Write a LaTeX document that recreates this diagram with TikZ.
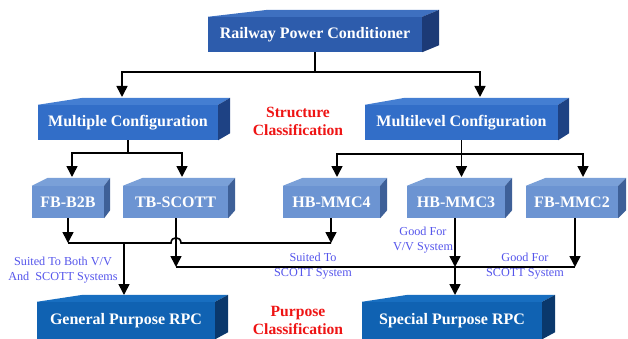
\documentclass[tikz,border=0pt]{standalone}
\usepackage{fontspec}
\setmainfont{Liberation Serif}
\usetikzlibrary{arrows.meta,calc}
\definecolor{rpcF}{RGB}{45,92,172}
\definecolor{rpcT}{RGB}{62,112,192}
\definecolor{rpcS}{RGB}{28,58,118}
\definecolor{cfgF}{RGB}{50,110,200}
\definecolor{cfgT}{RGB}{68,126,210}
\definecolor{cfgS}{RGB}{30,66,132}
\definecolor{lvlF}{RGB}{108,148,210}
\definecolor{lvlT}{RGB}{122,160,216}
\definecolor{lvlS}{RGB}{62,96,152}
\definecolor{purF}{RGB}{16,98,178}
\definecolor{purT}{RGB}{24,110,192}
\definecolor{purS}{RGB}{10,56,108}
\definecolor{noteblue}{RGB}{85,85,235}
\definecolor{clsred}{RGB}{238,20,20}
\newcommand\rpcdepth[6]{%
  \fill[#5] (#1.north west) -- ($(#1.north west)+(#4,-#3)$) -- ($(#1.north east)+(#2,-#3)$) -- (#1.north east) -- cycle;
  \fill[#6] (#1.north east) -- ($(#1.north east)+(#2,-#3)$) -- ($(#1.south east)+(#2,-#3)$) -- (#1.south east) -- cycle;}
\tikzset{
  face/.style={draw=none, inner sep=0pt, text=white, font=\bfseries\fontsize{16}{18}\selectfont},
  topbox/.style={face, fill=rpcF, minimum height=35pt},
  cfgbox/.style={face, fill=cfgF, minimum height=35pt},
  lvlbox/.style={face, fill=lvlF, minimum height=32pt},
  purbox/.style={face, fill=purF, minimum height=37pt},
  arr/.style={-{Triangle[width=11pt,length=11pt]}, line width=1.6pt},
  ln/.style={line width=1.6pt},
  note/.style={text=noteblue, font=\fontsize{12.2}{15}\selectfont, align=center, inner sep=0pt},
  cls/.style={text=clsred, font=\bfseries\fontsize{15.6}{18}\selectfont, align=center, inner sep=0pt}
}
\begin{document}
\begin{tikzpicture}[x=1pt,y=-1pt]
\useasboundingbox (0,0) rectangle (628,339);
% boxes
\node[topbox, minimum width=214pt] (rpc) at (315,34.5) {Railway Power Conditioner};
\rpcdepth{rpc}{17}{7}{60}{rpcT}{rpcS}
\node[cfgbox, minimum width=180pt] (mc) at (128,122.5) {Multiple Configuration};
\rpcdepth{mc}{12}{7}{45}{cfgT}{cfgS}
\node[cfgbox, minimum width=193pt] (ml) at (461.5,122.5) {Multilevel Configuration};
\rpcdepth{ml}{11}{7}{40}{cfgT}{cfgS}
\node[lvlbox, minimum width=72pt] (b2b) at (68,202) {FB-B2B};
\rpcdepth{b2b}{6}{8}{16}{lvlT}{lvlS}
\node[lvlbox, minimum width=105pt] (tb) at (175.5,202) {TB-SCOTT};
\rpcdepth{tb}{7}{8}{20}{lvlT}{lvlS}
\node[lvlbox, minimum width=97pt] (m4) at (331.5,202) {HB-MMC4};
\rpcdepth{m4}{7}{8}{20}{lvlT}{lvlS}
\node[lvlbox, minimum width=98pt] (m3) at (456,202) {HB-MMC3};
\rpcdepth{m3}{7}{8}{20}{lvlT}{lvlS}
\node[lvlbox, minimum width=92pt] (m2) at (572,202) {FB-MMC2};
\rpcdepth{m2}{8}{8}{20}{lvlT}{lvlS}
\node[purbox, minimum width=178pt] (gp) at (126,320.5) {General Purpose RPC};
\rpcdepth{gp}{13}{7}{46}{purT}{purS}
\node[purbox, minimum width=180pt] (sp) at (452,320.5) {Special Purpose RPC};
\rpcdepth{sp}{13}{7}{46}{purT}{purS}
% classification labels
\node[cls] (sc) at (298,121) {Structure\\Classification};
\node[cls] (pc) at (298,320) {Purpose\\Classification};
% level 1 connectors
\coordinate (j1) at (315,72);
\coordinate (mcT) at (122,97);
\coordinate (mlT) at (480,97);
\draw[ln] (rpc.south) -- (j1);
\draw[arr] (j1) -| (mcT);
\draw[arr] (j1) -| (mlT);
% level 2 connectors
\coordinate (j2) at (128,153);
\coordinate (b2bT) at (72,177);
\coordinate (tbT) at (182,177);
\draw[ln] (mc.south) -- (j2);
\draw[arr] (j2) -| (b2bT);
\draw[arr] (j2) -| (tbT);
\coordinate (j3) at (461.5,154);
\coordinate (m4T) at (337,177);
\coordinate (m3T) at (461.5,177);
\coordinate (m2T) at (583,177);
\draw[ln] (ml.south) -- (j3);
\draw[arr] (j3) -| (m4T);
\draw[arr] (j3) -- (m3T);
\draw[arr] (j3) -| (m2T);
% lower connectors
\coordinate (h1) at (68,243);
\coordinate (h2) at (331,243);
\coordinate (g1) at (124,243);
\coordinate (gT) at (124,295);
\coordinate (s1) at (176,267);
\coordinate (s2) at (575,267);
\coordinate (s3) at (455,267);
\coordinate (sT) at (455,295);
\draw[arr] (b2b.south -| h1) -- (h1);
\draw[arr] (m4.south -| h2) -- (h2);
\draw[ln] (h1) -- (171,243) .. controls (171,236) and (181,236) .. (181,243) -- (h2);
\draw[arr] (g1) -- (gT);
\draw[arr] (tb.south -| s1) -- (s1);
\draw[ln] (s1) -- (s2);
\draw[arr] (m2.south -| s2) -- (s2);
\draw[arr] (m3.south -| s3) -- (s3);
\draw[arr] (s3) -- (sT);
% notes
\node[note] (n1) at (63,270.5) {Suited To Both V/V\\And \ SCOTT Systems};
\node[note] (n2) at (313,266.5) {Suited To\\SCOTT System};
\node[note] (n3) at (423,240.5) {Good For\\V/V System};
\node[note] (n4) at (525,266.5) {Good For\\SCOTT System};
\end{tikzpicture}
\end{document}
